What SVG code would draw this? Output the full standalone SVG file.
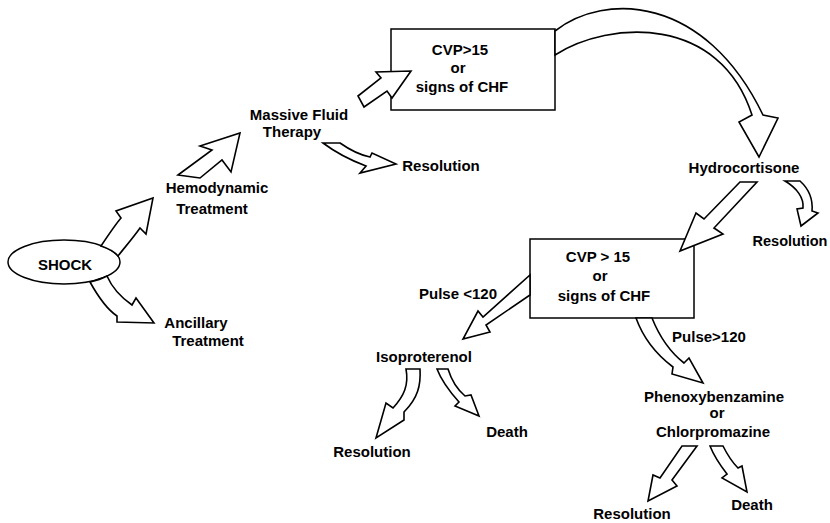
<svg xmlns="http://www.w3.org/2000/svg" width="830" height="523" viewBox="0 0 830 523">
<style>
text{font-family:"Liberation Sans",Arial,sans-serif;font-weight:bold;font-size:15px;fill:#000;text-anchor:middle}
.box{fill:#fff;stroke:#000;stroke-width:1.5}
.arr{fill:#fff;stroke:#000;stroke-width:1.6;stroke-linejoin:miter}
</style>
<rect width="830" height="523" fill="#fff"/>
<g id="shock">
<ellipse class="box" cx="64" cy="262" rx="56" ry="22"/>
<text x="65" y="270">SHOCK</text>
</g>
<g id="hemodynamic"><text x="217" y="193">Hemodynamic</text><text x="212" y="214">Treatment</text></g>
<g id="ancillary"><text x="196" y="328">Ancillary</text><text x="208" y="346">Treatment</text></g>
<g id="massive-fluid"><text x="299" y="120">Massive Fluid</text><text x="292" y="137">Therapy</text></g>
<g id="resolution-1"><text x="441" y="171">Resolution</text></g>
<g id="box1">
<rect class="box" x="391" y="29" width="164" height="81"/>
<text x="460" y="55">CVP&gt;15</text><text x="458" y="73">or</text><text x="462" y="92">signs of CHF</text>
</g>
<g id="hydrocortisone"><text x="744" y="173">Hydrocortisone</text></g>
<g id="resolution-2"><text x="790" y="246" style="font-size:14.5px">Resolution</text></g>
<g id="box2">
<rect class="box" x="530" y="239" width="164" height="79"/>
<text x="598" y="262">CVP &gt; 15</text><text x="600" y="281">or</text><text x="604" y="301">signs of CHF</text>
</g>
<g id="pulse-lt"><text x="458" y="299">Pulse &lt;120</text></g>
<g id="isoproterenol"><text x="424" y="362">Isoproterenol</text></g>
<g id="resolution-3"><text x="372" y="457">Resolution</text></g>
<g id="death-1"><text x="507" y="437">Death</text></g>
<g id="pulse-gt"><text x="709" y="342">Pulse&gt;120</text></g>
<g id="phenoxy"><text x="714" y="402">Phenoxybenzamine</text><text x="717" y="418">or</text><text x="713" y="437">Chlorpromazine</text></g>
<g id="resolution-4"><text x="632" y="519">Resolution</text></g>
<g id="death-2"><text x="752" y="510">Death</text></g>
<g id="connectors">
<path class="arr" d="M101,246 C109,234 115,225 121,218 L116,211 L153,198 L146,234 L140,228 C133,238 125,247 118,256 A56,22 0 0 0 101,246 Z"/>
<path class="arr" d="M90,282 C100,300 108,310 117,316 L117,322 L154,323 L136,298 L132,305 C122,298 113,290 107,276 A56,22 0 0 1 90,282 Z"/>
<path class="arr" d="M178,175 L212,150 L200,146 L240,133 L231,172 L222,160 L200,178 Z"/>
<path class="arr" d="M358,96 L381,78 L376,72 L411,71 L392,98 L387,91 L364,107 Z"/>
<path class="arr" d="M323,143 L340,143 C350,150 360,155 370,157 L372,153 L396,164 L360,173 L366,166 C350,160 335,152 323,143 Z"/>
<path class="arr" d="M555,31 C605,-8 705,-5 763,115 L778,118 L759,157 L739,122 L752,115 C720,15 610,20 555,55 Z"/>
<path class="arr" d="M740,182 L757,182 L714,228 L723,234 L680,251 L696,213 L704,219 Z"/>
<path class="arr" d="M785,181 L800,181 C810,190 813,200 812,211 L818,213 L801,226 L797,209 L803,208 C804,198 797,188 785,181 Z"/>
<path class="arr" d="M530,275 L530,295 L486,325 L490,332 L463,339 L478,311 L483,317 Z"/>
<path class="arr" d="M406,369 L420,369 C421,385 418,398 404,412 L404,420 L376,438 L386,403 L393,408 C404,396 409,385 406,369 Z"/>
<path class="arr" d="M437,369 L448,369 C452,382 458,390 465,396 L471,395 L479,416 L455,406 L459,402 C450,392 442,382 437,369 Z"/>
<path class="arr" d="M636,318 L652,318 C660,338 670,352 684,363 L689,358 L703,383 L672,374 L673,367 C657,355 644,340 636,318 Z"/>
<path class="arr" d="M682,446 L697,446 L672,480 L677,486 L648,501 L653,475 L660,478 Z"/>
<path class="arr" d="M710,446 L723,446 C728,456 733,463 738,468 L742,466 L747,492 L722,478 L727,474 C720,465 714,456 710,446 Z"/>
</g>
</svg>
